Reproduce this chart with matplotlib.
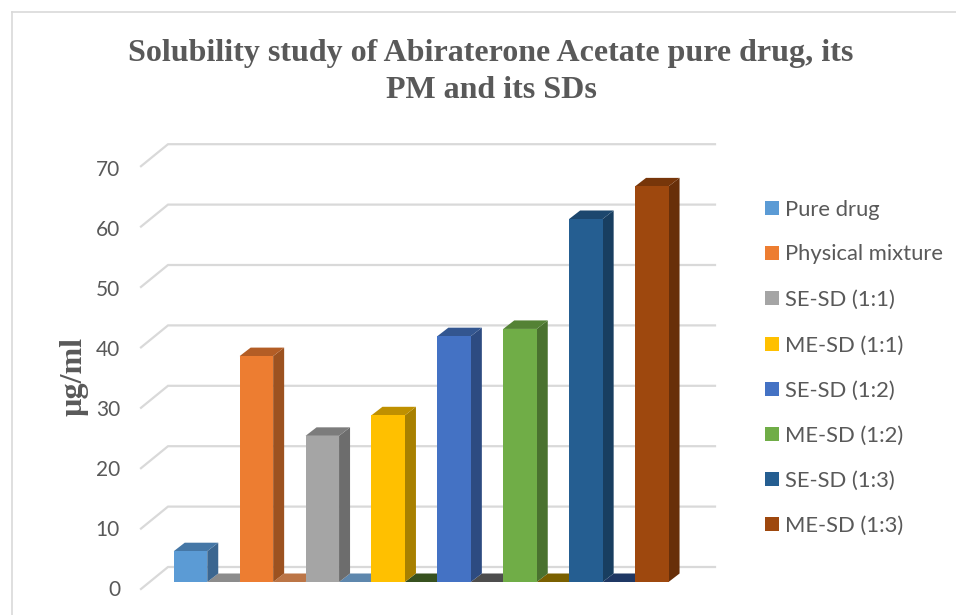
import matplotlib
matplotlib.use("Agg")
import matplotlib.pyplot as plt
from matplotlib.patches import Polygon, Rectangle

# ── Datos ────────────────────────────────────────────────────────────────────
samples = ["Pure drug", "Physical mixture", "SE-SD (1:1)", "ME-SD (1:1)",
           "SE-SD (1:2)", "ME-SD (1:2)", "SE-SD (1:3)", "ME-SD (1:3)"]
solubility = [5.1, 37.4, 24.2, 27.6, 40.7, 41.9, 60.1, 65.5]
y_ticks = [0, 10, 20, 30, 40, 50, 60, 70]

# ── Colores ──────────────────────────────────────────────────────────────────
front_colors = ["#5B9BD5", "#ED7D31", "#A5A5A5", "#FFC000",
                "#4472C4", "#70AD47", "#255E91", "#9E480E"]
side_colors = ["#3B6690", "#9C5220", "#6D6D6D", "#A88000",
               "#2D4B81", "#4A722F", "#183E60", "#682F09"]
top_colors = ["#4577A6", "#B35D25", "#7C7C7C", "#BF9000",
              "#335690", "#548235", "#1C476E", "#77360A"]
floor_colors = ["#8C8C8C", "#BC7546", "#5E87AD", "#37511F",
                "#4D4D4D", "#7A6000", "#1F3864"]
C_TEXT = "#595959"
C_GRID = "#D9D9D9"

# escala en píxeles de la figura original
PX_X = 65.9      # px por categoría
PX_Y = 6.04      # px por unidad de µg/ml
X0, Y0 = 190.5, 582
W, H = 956, 615

BAR_W = 33.5 / PX_X
DEPTH_X = 11 / PX_X
DEPTH_Y = 8.5 / PX_Y
WALL_L = (168 - X0) / PX_X
WALL_R = (715 - X0) / PX_X
WALL_DY = (Y0 - 567) / PX_Y
FRONT_L = (141 - X0) / PX_X
FRONT_DY = (Y0 - 589) / PX_Y


def px_x(px):
    return (px - X0) / PX_X


def px_y(px):
    return (Y0 - px) / PX_Y


fig = plt.figure(figsize=(W / 100, H / 100), dpi=100)
ax = fig.add_axes([0, 0, 1, 1])
ax.set_xlim(px_x(0), px_x(W))
ax.set_ylim(px_y(H), px_y(0))
ax.axis("off")

# marco del gráfico (solo arriba e izquierda quedan dentro del recorte)
ax.plot([px_x(11.5), px_x(W)], [px_y(11.5), px_y(11.5)], color=C_GRID, lw=1.2)
ax.plot([px_x(11.5), px_x(11.5)], [px_y(11.5), px_y(H)], color=C_GRID, lw=1.2)

# rejilla: pared del fondo + diagonal lateral
for v in y_ticks:
    ax.plot([FRONT_L, WALL_L, WALL_R],
            [v + FRONT_DY, v + WALL_DY, v + WALL_DY],
            color=C_GRID, lw=1.6, solid_joinstyle="miter", zorder=1)
    ax.text(px_x(120), v * 0.995 + px_y(590.5), str(v), ha="right", va="center",
            fontsize=15, color=C_TEXT, family="Lato")

# barras con falso 3D
for i, val in enumerate(solubility):
    left, right = i - BAR_W / 2, i + BAR_W / 2
    ax.add_patch(Polygon([(right, 0), (right + DEPTH_X, DEPTH_Y),
                          (right + DEPTH_X, val + DEPTH_Y), (right, val)],
                         fc=side_colors[i], ec="none", zorder=3))
    ax.add_patch(Polygon([(left, val), (left + DEPTH_X, val + DEPTH_Y),
                          (right + DEPTH_X, val + DEPTH_Y), (right, val)],
                         fc=top_colors[i], ec="none", zorder=3))
    ax.bar(i, val, width=BAR_W, color=front_colors[i], zorder=4)

# tapas de las series a cero entre barras
for i, col in enumerate(floor_colors):
    left, right = i + BAR_W / 2, i + 1 - BAR_W / 2
    ax.add_patch(Polygon([(left, 0), (left + DEPTH_X, DEPTH_Y),
                          (right + DEPTH_X, DEPTH_Y), (right, 0)],
                         fc=col, ec="none", zorder=2))

# título y eje
title_font = dict(family="Liberation Serif", fontweight="bold", color=C_TEXT)
ax.text(px_x(490.5), px_y(54), "Solubility study of Abiraterone Acetate pure drug, its",
        ha="center", va="center", fontsize=23, **title_font)
ax.text(px_x(491), px_y(90), "PM and its SDs",
        ha="center", va="center", fontsize=23, **title_font)
ax.text(px_x(74), px_y(377), "µg/ml", rotation=90, ha="center", va="center",
        fontsize=23, **title_font)

# leyenda
legend_y = [208, 253, 298, 344, 389, 434, 479, 524]
for name, col, ly in zip(samples, front_colors, legend_y):
    ax.add_patch(Rectangle((px_x(765), px_y(ly + 7)), 14 / PX_X, 14 / PX_Y,
                           fc=col, ec="none"))
    ax.text(px_x(785), px_y(ly + 1.5), name, ha="left", va="center",
            fontsize=15.8, color=C_TEXT, family="Lato")

fig.savefig("out.png", dpi=100, facecolor="white")
plt.close(fig)
